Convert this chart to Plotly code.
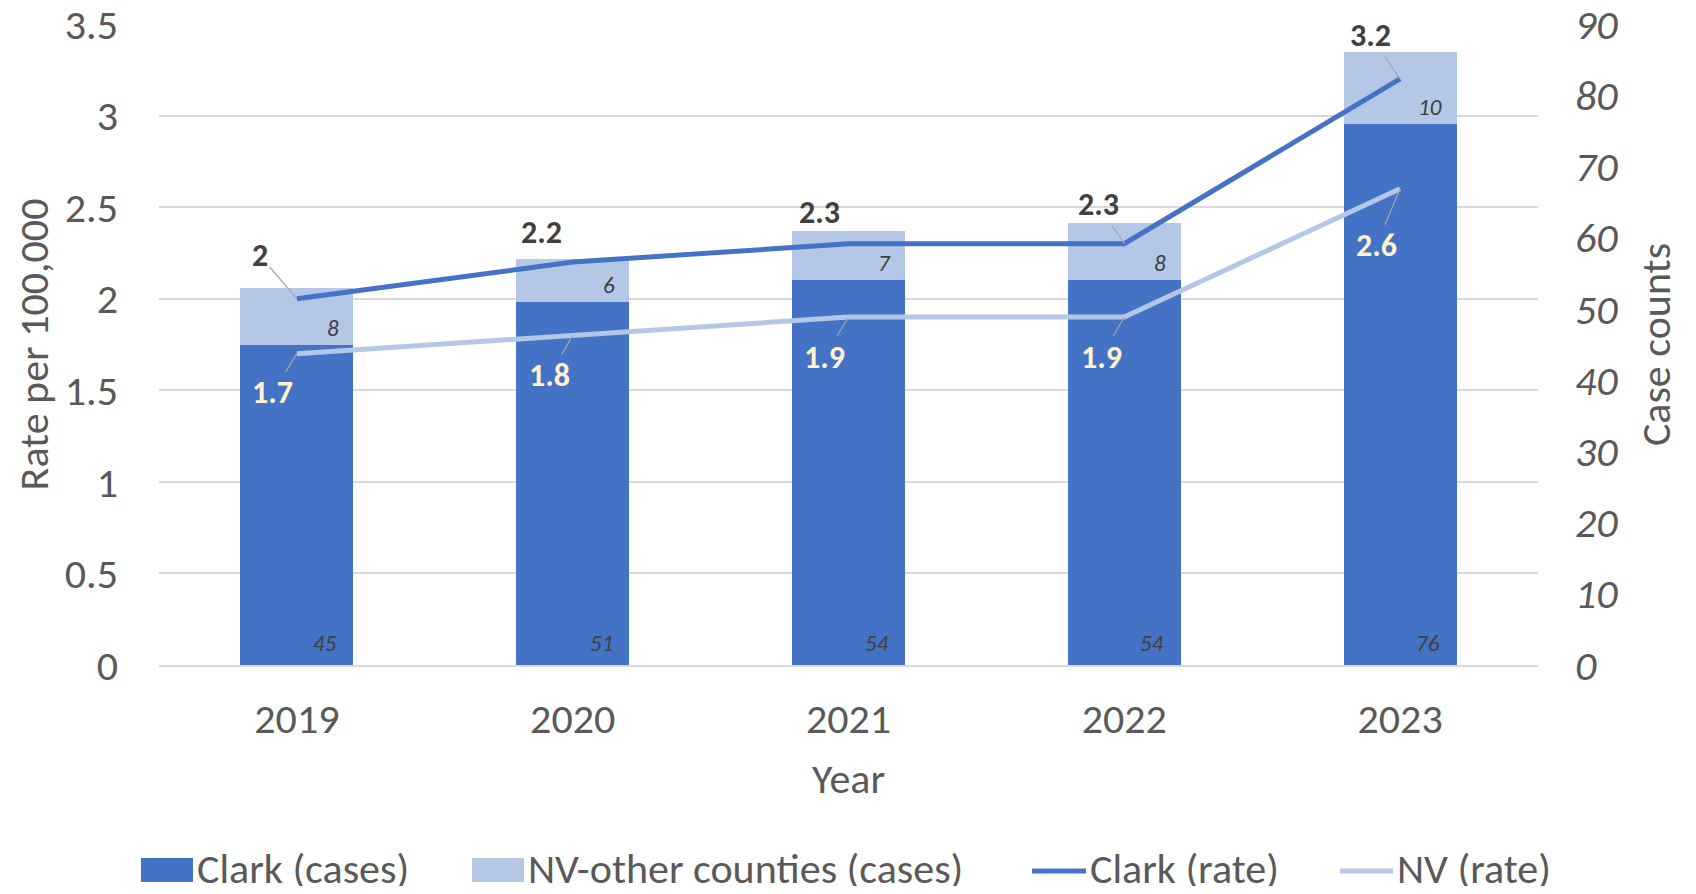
import plotly.graph_objects as go

years = ["2019", "2020", "2021", "2022", "2023"]
clark_cases = [45, 51, 54, 54, 76]
other_cases = [8, 6, 7, 8, 10]
clark_rate = [2, 2.2, 2.3, 2.3, 3.2]
nv_rate = [1.7, 1.8, 1.9, 1.9, 2.6]

series_names = ["Clark (cases)", "NV-other counties (cases)", "Clark (rate)", "NV (rate)"]

FONT = "Carlito, Calibri, 'Liberation Sans Narrow', 'Open Sans', sans-serif"
DARK_BLUE = "#4472C4"
LIGHT_BLUE = "#B4C7E7"
TXT = "#595959"
FS = 42

# ---- layout geometry (figure drawn inside an 8px page margin) ----
W, H = 1680, 878
ML, MR, MT, MB = 151, 150, 16, 221
PW, PH = W - ML - MR, H - MT - MB
PAGE_OFF = 8


def px(xpage):
    return (xpage - PAGE_OFF - ML) / PW


def py(ypage):
    return (H - MB - (ypage - PAGE_OFF)) / PH


# label offsets (style): (dx, dy, leader line?)
clark_off = [(-37, -43, True), (-31, -30, False), (-29, -31, False), (-26, -39, True), (-30, -43, True)]
nv_off = [(-24, 39, True), (-23, 40, True), (-24, 40, True), (-23, 40, True), (-24, 57, True)]

fig = go.Figure()
fig.add_trace(go.Bar(x=years, y=clark_cases, name=series_names[0],
                     marker=dict(color=DARK_BLUE, line=dict(width=0)), yaxis="y"))
fig.add_trace(go.Bar(x=years, y=other_cases, name=series_names[1],
                     marker=dict(color=LIGHT_BLUE, line=dict(width=0)), yaxis="y"))
fig.add_trace(go.Scatter(x=years, y=clark_rate, name=series_names[2], mode="lines",
                         line=dict(color=DARK_BLUE, width=5), yaxis="y2"))
fig.add_trace(go.Scatter(x=years, y=nv_rate, name=series_names[3], mode="lines",
                         line=dict(color=LIGHT_BLUE, width=5), yaxis="y2"))

ann = []
for i, yr in enumerate(years):
    # category serial number for annotations on a category axis
    ann.append(dict(x=i, y=0, xref="x", yref="y", text=str(clark_cases[i]),
                    showarrow=False, xanchor="right", yanchor="middle", xshift=42, yshift=22,
                    font=dict(family=FONT, size=23, color="#404040", style="italic")))
    ann.append(dict(x=i, y=clark_cases[i], xref="x", yref="y", text=str(other_cases[i]),
                    showarrow=False, xanchor="right", yanchor="middle", xshift=44, yshift=17,
                    font=dict(family=FONT, size=23, color="#404040", style="italic")))
    for vals, offs, col in ((clark_rate, clark_off, "#404040"), (nv_rate, nv_off, "#FFF2CC")):
        dx, dy, lead = offs[i]
        a = dict(x=i, y=vals[i], xref="x", yref="y2", text="<b>%g</b>" % vals[i],
                 font=dict(family=FONT, size=32, color=col))
        if lead:
            a.update(showarrow=True, ax=dx, ay=dy, arrowhead=0, arrowwidth=1.2, arrowcolor="#A6A6A6")
        else:
            a.update(showarrow=False, xshift=dx, yshift=-dy)
        ann.append(a)

# ---- legend drawn to match the original's wide swatches ----
shapes = []
leg_y = 868
sw = [(141, 193), (472, 524), (1032, 1086), (1340, 1393)]
leg_colors = [DARK_BLUE, LIGHT_BLUE, DARK_BLUE, LIGHT_BLUE]
for k, name in enumerate(series_names):
    x0, x1 = sw[k]
    if k < 2:
        shapes.append(dict(type="rect", xref="paper", yref="paper", x0=px(x0), x1=px(x1),
                           y0=py(leg_y + 14), y1=py(leg_y - 10), fillcolor=leg_colors[k],
                           line=dict(width=0), layer="above"))
    else:
        shapes.append(dict(type="line", xref="paper", yref="paper", x0=px(x0), x1=px(x1),
                           y0=py(leg_y + 3), y1=py(leg_y + 3), line=dict(color=leg_colors[k], width=5),
                           layer="above"))
    ann.append(dict(x=px(x1 + 2), y=py(leg_y), xref="paper", yref="paper", text=name,
                    showarrow=False, xanchor="left", yanchor="middle",
                    font=dict(family=FONT, size=FS, color=TXT)))

fig.update_layout(
    width=W, height=H,
    barmode="stack", bargap=0.59,
    paper_bgcolor="white", plot_bgcolor="white",
    margin=dict(l=ML, r=MR, t=MT, b=MB, autoexpand=False),
    font=dict(family=FONT, color=TXT, size=FS),
    xaxis=dict(type="category", range=[-0.5, len(years) - 0.5], showgrid=False,
               showline=True, linecolor="#D9D9D9", linewidth=1.5, automargin=False,
               ticks="", tickfont=dict(size=FS, color=TXT), ticklabelstandoff=16,
               title=dict(text="Year", font=dict(size=FS, color=TXT), standoff=20)),
    yaxis=dict(side="right", range=[0, 90], dtick=10, showgrid=False, zeroline=False,
               automargin=False, ticklabeloverflow="allow",
               tickfont=dict(size=FS, color=TXT, style="italic"), ticklabelstandoff=36,
               title=dict(text="Case counts", font=dict(size=FS, color=TXT), standoff=23)),
    yaxis2=dict(side="left", overlaying="y", range=[0, 3.5], dtick=0.5, showgrid=True,
                gridcolor="#D9D9D9", gridwidth=1.5, zeroline=False, automargin=False,
                ticklabeloverflow="allow",
                tickfont=dict(size=FS, color=TXT), ticklabelstandoff=40,
                title=dict(text="Rate per 100,000", font=dict(size=FS, color=TXT), standoff=5)),
    showlegend=False,
    annotations=ann,
    shapes=shapes,
)

fig.write_html("out.html")
